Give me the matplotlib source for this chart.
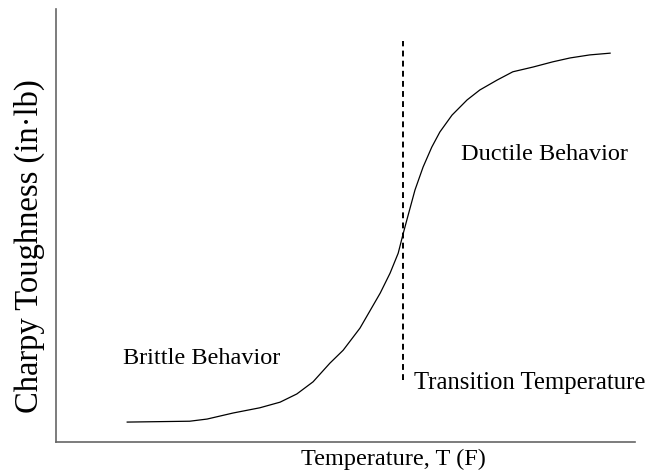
import matplotlib
matplotlib.use('Agg')
import matplotlib.pyplot as plt

# Charpy curve (arbitrary units, 0-100 on both axes)
temperature = [12.3, 23.1, 26.1, 30.6, 35.2, 38.7, 41.6, 44.4, 47.3, 49.6,
               52.5, 56.0, 57.7, 59.1, 59.9, 60.6, 62.0, 63.4, 64.9, 66.3,
               68.4, 71.0, 73.2, 76.2, 78.9, 82.4, 85.8, 88.8, 92.2, 95.7]
toughness = [4.6, 4.8, 5.3, 6.7, 7.9, 9.2, 11.1, 13.9, 18.2, 21.2,
             26.3, 34.4, 39.0, 43.6, 47.8, 51.3, 58.2, 63.5, 68.1, 71.6,
             75.5, 79.0, 81.3, 83.6, 85.5, 86.6, 87.8, 88.7, 89.4, 89.8]

transition_t = 60.0
transition_span = [14.3, 92.6]

plt.rcParams['font.family'] = ['Liberation Serif', 'DejaVu Serif']

fig = plt.figure(figsize=(6.54, 4.74), dpi=100)
ax = fig.add_axes([56 / 654, 32 / 474, 579 / 654, 433 / 474])

ax.plot(temperature, toughness, color='black', linewidth=0.9)
ax.plot([transition_t, transition_t], transition_span, color='black',
        linewidth=1.4, linestyle=(0, (3, 2.2)))

ax.text(11.6, 19.2, 'Brittle Behavior', fontsize=17.5, va='center', ha='left')
ax.text(70.0, 66.5, 'Ductile Behavior', fontsize=17.5, va='center', ha='left')
ax.text(61.8, 13.6, 'Transition Temperature', fontsize=17.8, va='center', ha='left')

ax.set_xlim(0, 100)
ax.set_ylim(0, 100)
ax.set_xticks([])
ax.set_yticks([])
for side in ['top', 'right']:
    ax.spines[side].set_visible(False)
for side in ['left', 'bottom']:
    ax.spines[side].set_color('#666666')
    ax.spines[side].set_linewidth(1.2)

ax.set_xlabel('Temperature, T (F)', fontsize=17.5, labelpad=5, x=0.582)
ax.set_ylabel('Charpy Toughness (in\u00b7lb)', fontsize=23.5, labelpad=8, y=0.453)

fig.savefig('out.png', dpi=100)
